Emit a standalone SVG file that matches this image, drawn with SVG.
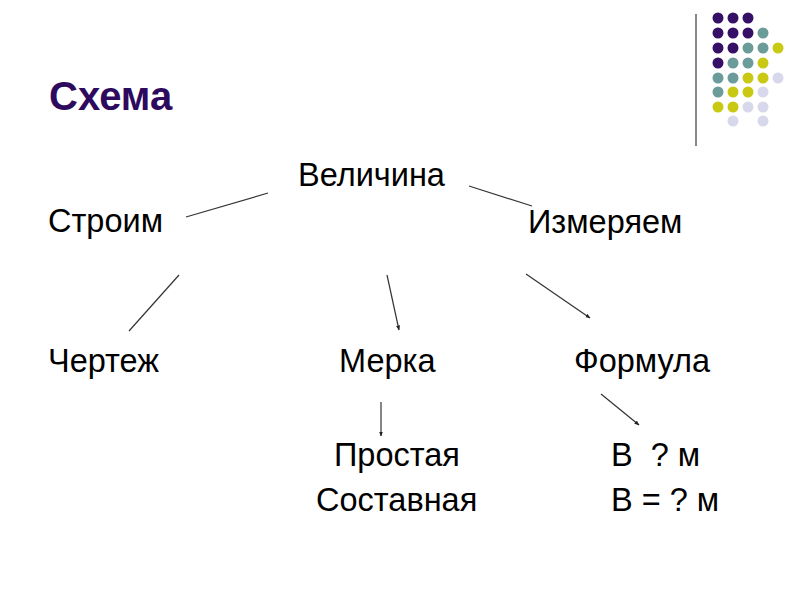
<svg xmlns="http://www.w3.org/2000/svg" width="800" height="600" viewBox="0 0 800 600">
<defs>
<style>
.t{font-family:"Liberation Sans",Arial,sans-serif;font-size:32.5px;fill:#000}
.title{font-family:"Liberation Sans",Arial,sans-serif;font-size:40px;font-weight:bold;fill:#2e0a5e}
.c{stroke:#333;stroke-width:1.2;fill:none}
.p{fill:#360f66}.g{fill:#6b9c9a}.y{fill:#c9c914}.l{fill:#d8d8ec}
</style>
<marker id="ah" viewBox="0 0 10 10" refX="9" refY="5" markerWidth="5" markerHeight="5" markerUnits="userSpaceOnUse" orient="auto">
<path d="M0,1 L10,5 L0,9 z" fill="#222"/>
</marker>
</defs>
<rect width="800" height="600" fill="#fff"/>
<g id="decor">
<line x1="696" y1="14" x2="696" y2="146" stroke="#888" stroke-width="2"/>
<g>
<circle class="p" cx="718" cy="18" r="5.5"/><circle class="p" cx="733" cy="18" r="5.5"/><circle class="p" cx="748" cy="18" r="5.5"/>
<circle class="p" cx="718" cy="33" r="5.5"/><circle class="p" cx="733" cy="33" r="5.5"/><circle class="p" cx="748" cy="33" r="5.5"/><circle class="g" cx="763" cy="33" r="5.5"/>
<circle class="p" cx="718" cy="48" r="5.5"/><circle class="p" cx="733" cy="48" r="5.5"/><circle class="g" cx="748" cy="48" r="5.5"/><circle class="g" cx="763" cy="48" r="5.5"/><circle class="y" cx="778" cy="48" r="5.5"/>
<circle class="p" cx="718" cy="63" r="5.5"/><circle class="g" cx="733" cy="63" r="5.5"/><circle class="g" cx="748" cy="63" r="5.5"/><circle class="y" cx="763" cy="63" r="5.5"/>
<circle class="g" cx="718" cy="78" r="5.5"/><circle class="g" cx="733" cy="78" r="5.5"/><circle class="y" cx="748" cy="78" r="5.5"/><circle class="y" cx="763" cy="78" r="5.5"/><circle class="l" cx="778" cy="78" r="5.5"/>
<circle class="g" cx="718" cy="92" r="5.5"/><circle class="y" cx="733" cy="92" r="5.5"/><circle class="y" cx="748" cy="92" r="5.5"/><circle class="l" cx="763" cy="92" r="5.5"/>
<circle class="y" cx="718" cy="107" r="5.5"/><circle class="y" cx="733" cy="107" r="5.5"/><circle class="l" cx="748" cy="107" r="5.5"/><circle class="l" cx="763" cy="107" r="5.5"/>
<circle class="l" cx="733" cy="121" r="5.5"/><circle class="l" cx="763" cy="121" r="5.5"/>
</g>
</g>
<text class="title" x="49" y="110">Схема</text>
<g id="connectors">
<line class="c" x1="186" y1="217" x2="268" y2="193"/>
<line class="c" x1="469" y1="186" x2="532" y2="206"/>
<line class="c" x1="179" y1="275" x2="129" y2="331"/>
<line class="c" x1="387" y1="275" x2="399" y2="330" marker-end="url(#ah)"/>
<line class="c" x1="526" y1="274" x2="590" y2="318" marker-end="url(#ah)"/>
<line class="c" x1="381" y1="402" x2="381" y2="436" marker-end="url(#ah)"/>
<line class="c" x1="601" y1="394" x2="639" y2="425" marker-end="url(#ah)"/>
</g>
<g id="n-velichina"><text class="t" x="298" y="186">Величина</text></g>
<g id="n-stroim"><text class="t" x="48" y="232">Строим</text></g>
<g id="n-izmeryaem"><text class="t" x="528" y="233">Измеряем</text></g>
<g id="n-chertezh"><text class="t" x="48" y="372">Чертеж</text></g>
<g id="n-merka"><text class="t" x="339" y="372">Мерка</text></g>
<g id="n-formula"><text class="t" x="574" y="372">Формула</text></g>
<g id="n-prostaya"><text class="t" x="334" y="466">Простая</text></g>
<g id="n-sostavnaya"><text class="t" x="316" y="511">Составная</text></g>
<g id="n-v1"><text class="t" x="611" y="466" xml:space="preserve">В  ? м</text></g>
<g id="n-v2"><text class="t" x="611" y="511">В = ? м</text></g>
</svg>
